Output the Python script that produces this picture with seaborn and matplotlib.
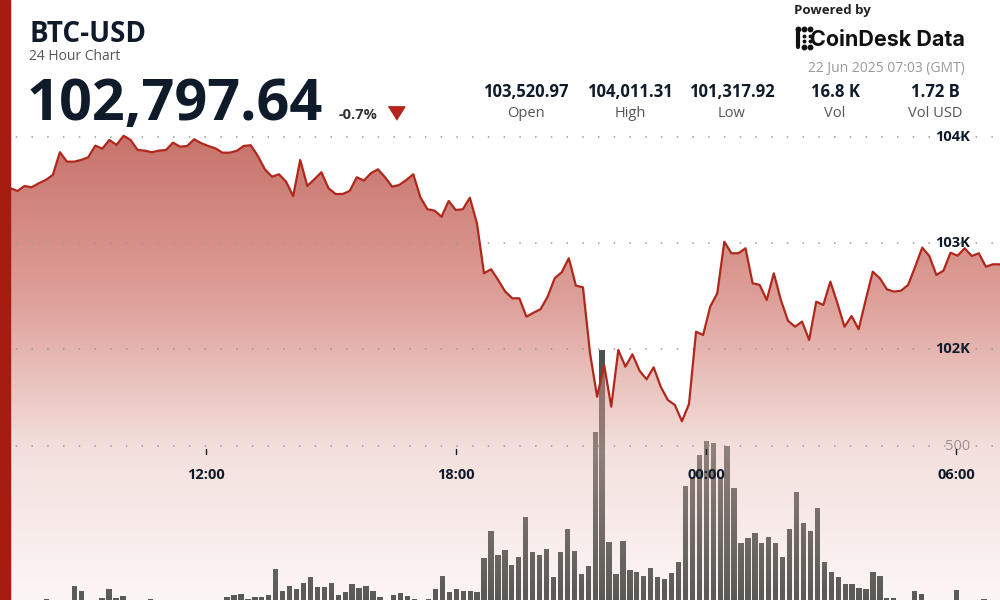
import numpy as np
import pandas as pd
import matplotlib
matplotlib.use("Agg")
import matplotlib.pyplot as plt
import matplotlib.dates as mdates
import matplotlib.transforms as mtransforms
from matplotlib.lines import Line2D
from matplotlib.patches import Rectangle
import seaborn as sns

# BTC-USD price (07:18 21 Jun -> 07:03 22 Jun)
price = [
    103516, 103491, 103538, 103525, 103563, 103594, 103642, 103856, 103767, 103767,
    103783, 103808, 103918, 103890, 103972, 103925, 104011, 103972, 103877, 103871,
    103856, 103871, 103877, 103946, 103908, 103915, 103978, 103941, 103915, 103893,
    103852, 103852, 103868, 103915, 103922, 103821, 103695, 103625, 103648, 103578,
    103443, 103783, 103538, 103601, 103667, 103516,
    103462, 103462, 103491, 103620, 103588, 103658, 103695, 103620, 103531, 103547,
    103594, 103648, 103431, 103318, 103305, 103248, 103396, 103311, 103318, 103427,
    103186, 102714, 102752, 102651, 102541, 102478, 102478, 102305, 102342, 102375,
    102493, 102667, 102724, 102856, 102597, 102582, 101959, 101550, 101849, 101456,
    101991, 101833, 101950, 101795, 101714, 101827,
    101644, 101519, 101472, 101318, 101481, 102163, 102132, 102399, 102525, 103012,
    102903, 102903, 102950, 102620, 102604, 102462, 102714, 102462, 102267, 102210,
    102258, 102085, 102446, 102415, 102635, 102431, 102210, 102311, 102186, 102462,
    102729, 102667, 102563, 102541, 102550, 102604, 102776, 102956, 102877, 102698,
    102739, 102908, 102880, 102950, 102877, 102903, 102776, 102799, 102798,
]

# volume (BTC) per 10 minute bucket, first bucket centred on 07:10
volume = [
    24, 24, 24, 24, 24, 24, 34, 24, 24, 24,
    73, 58, 24, 24, 36, 63, 36, 42, 24, 24,
    24, 34, 24, 24, 24, 24, 24, 24, 24, 24,
    24, 24, 40, 45, 47, 34, 40, 38, 45, 125,
    58, 73, 65, 83, 101, 70, 70, 81, 46, 55,
    80, 67, 72, 57, 38, 24, 45, 50, 43, 32,
    24, 34, 63, 103, 55, 65, 58, 58, 53, 157,
    240, 169, 182, 137, 162, 283, 177, 167, 186, 101,
    177, 247, 179, 108, 134, 544, 793, 207, 109, 211,
    121, 116, 103, 129, 99, 95, 114, 146, 378, 406,
    474, 516, 511, 406, 500, 373, 203, 220, 234, 204,
    221, 204, 162, 247, 359, 266, 241, 312, 146, 116,
    101, 78, 78, 67, 63, 116, 103, 36, 36, 24,
    24, 58, 48, 24, 24, 24, 24, 60, 24, 24,
    24, 32, 24, 24,
]

time_ticks = ["2025-06-21 12:00", "2025-06-21 18:00", "2025-06-22 00:00", "2025-06-22 06:00"]
time_labels = ["12:00", "18:00", "00:00", "06:00"]
price_ticks = [104000, 103000, 102000]
price_tick_labels = ["104K", "103K", "102K"]
volume_ticks = [500]
volume_tick_labels = ["500"]
stat_values = ["103,520.97", "104,011.31", "101,317.92", "16.8 K", "1.72 B"]
stat_names = ["Open", "High", "Low", "Vol", "Vol USD"]

NAVY = "#0f1a2a"
RED = "#b0281c"

xp = mdates.date2num(pd.date_range("2025-06-21 07:18", "2025-06-22 07:03", periods=len(price)))
xv = mdates.date2num(pd.date_range("2025-06-21 07:10", periods=len(volume), freq="10min"))
x0 = mdates.date2num(pd.Timestamp("2025-06-21 07:03"))
x1 = mdates.date2num(pd.Timestamp("2025-06-22 07:03"))
p_lo, p_hi = 99632, 105292
v_lo, v_hi = 30, 1863

sns.set_theme(style="white")
plt.rcParams["font.family"] = ["Open Sans", "DejaVu Sans"]

fig = plt.figure(figsize=(10, 6), dpi=100)
fig.patch.set_facecolor("white")
ax_v = fig.add_axes([0, 0, 1, 1])
ax_p = ax_v.twinx()

# volume bars underneath
ax_v.bar(xv, volume, width=7.6 / 1440, color="#4a524d", linewidth=0, zorder=1)

# price area with a vertical gradient, clipped to the area under the line
poly = ax_p.fill_between(xp, price, p_lo, facecolor="none", edgecolor="none")
rows = np.arange(600) + 0.5
stops = [137, 300, 450, 600]
vis = np.stack([np.interp(rows, stops, [200, 222, 243, 252]),
                np.interp(rows, stops, [115, 160, 224, 246]),
                np.interp(rows, stops, [107, 153, 221, 245])], axis=1)
alpha = np.interp(rows, [137, 450, 600], [0.8, 0.45, 0.1])[:, None]
col = np.clip((vis - (1 - alpha) * 255) / alpha / 255, 0, 1)
rgba = np.concatenate([col, alpha], axis=1)[:, None, :]
im = ax_p.imshow(rgba, extent=[x0, x1, p_lo, p_hi], aspect="auto", origin="upper",
                 interpolation="bilinear", zorder=1)
im.set_clip_path(poly.get_paths()[0], ax_p.transData)

sns.lineplot(x=xp, y=price, ax=ax_p, color=RED, linewidth=1.6, zorder=4)

# dotted grid
grid_kw = dict(color="#9a9a9a", lw=1.1, ls=(0, (1, 9.3)), zorder=2)
for pt in price_ticks:
    ax_p.axhline(pt, **grid_kw)
vol_tr = mtransforms.blended_transform_factory(ax_p.transAxes, ax_v.transData)
for vt in volume_ticks:
    ax_p.plot([0, 1], [vt, vt], transform=vol_tr, **grid_kw)

# y labels inside the plot on the right
p_tr = mtransforms.blended_transform_factory(ax_p.transAxes, ax_p.transData)
for pt, lab in zip(price_ticks, price_tick_labels):
    ax_p.text(0.97, pt, lab, transform=p_tr, ha="right", va="center",
              fontsize=10.5, fontweight="bold", color=NAVY, zorder=6)
for vt, lab in zip(volume_ticks, volume_tick_labels):
    ax_p.text(0.97, vt, lab, transform=vol_tr, ha="right", va="center",
              fontsize=10.5, color="#a0918d", zorder=6)

# time labels
xt = ax_p.get_xaxis_transform()
for tt, lab in zip(time_ticks, time_labels):
    tx = mdates.date2num(pd.Timestamp(tt))
    ax_p.plot([tx, tx], [1 - 449 / 600, 1 - 454 / 600], transform=xt, color=NAVY, lw=1, zorder=6)
    ax_p.text(tx, 1 - 475 / 600, lab, transform=xt, ha="center", va="center",
              fontsize=10.5, fontweight="bold", color=NAVY, zorder=6)

ax_v.set_xlim(x0, x1)
ax_v.set_ylim(v_lo, v_hi)
ax_p.set_xlim(x0, x1)
ax_p.set_ylim(p_lo, p_hi)
ax_v.set_axis_off()
ax_p.set_axis_off()


def px(x, y):
    return x / 1000, 1 - y / 600


# header
fig.text(*px(29, 42), "BTC-USD", fontsize=20, fontweight="bold", color=NAVY, va="baseline")
fig.text(*px(29, 60), "24 Hour Chart", fontsize=10, color="#555555", va="baseline")
fig.text(*px(27, 120), "102,797.64", fontsize=41.5, fontweight="bold", color=NAVY, va="baseline")
fig.text(*px(339, 119), "-0.7%", fontsize=10.5, fontweight="bold", color="#333333", va="baseline")
fig.add_artist(Line2D([0.396], [1 - 113 / 600], marker=[(-1, 0.8), (1, 0.8), (0, -0.8)],
                      markersize=12, color="#b2241a", ls="none", transform=fig.transFigure))

for cx, val, name in zip([526, 630, 732, 835, 935], stat_values, stat_names):
    fig.text(*px(cx, 97), val, fontsize=12, fontweight="bold", color=NAVY, ha="center", va="baseline")
    fig.text(*px(cx, 117), name, fontsize=10.5, color="#555555", ha="center", va="baseline")

fig.text(*px(794, 14), "Powered by", fontsize=9.5, fontweight="bold", color="#222222", va="baseline")
fig.text(*px(965, 46), "CoinDesk Data", fontsize=15.5, fontweight="bold", color="#111111",
         ha="right", va="baseline", family=["Inter", "DejaVu Sans"])
fig.text(*px(965, 72), "22 Jun 2025 07:03 (GMT)", fontsize=10, color="#9a9a9a", ha="right", va="baseline")

# logo mark
fig.add_artist(Line2D([0.798, 0.798], [1 - 29 / 600, 1 - 47 / 600], lw=3, color="#111111",
                      solid_capstyle="round", transform=fig.transFigure))
fig.add_artist(Line2D([0.798, 0.804, 0.810, 0.804, 0.810], [1 - 29 / 600, 1 - 29 / 600, 1 - 29 / 600,
                      1 - 47 / 600, 1 - 47 / 600], marker="o", ms=3.2, ls="none", color="#111111",
                      transform=fig.transFigure))
fig.add_artist(Line2D([0.804, 0.804, 0.810, 0.810], [1 - 36 / 600, 1 - 41 / 600, 1 - 36 / 600,
                      1 - 41 / 600], marker="o", ms=1.8, ls="none", color="#111111",
                      transform=fig.transFigure))

# red strip on the left edge
fig.add_artist(Rectangle((0, 0), 10 / 1000, 1, transform=fig.transFigure, color="#a61c11", zorder=10))

fig.savefig("out.png", dpi=100)
